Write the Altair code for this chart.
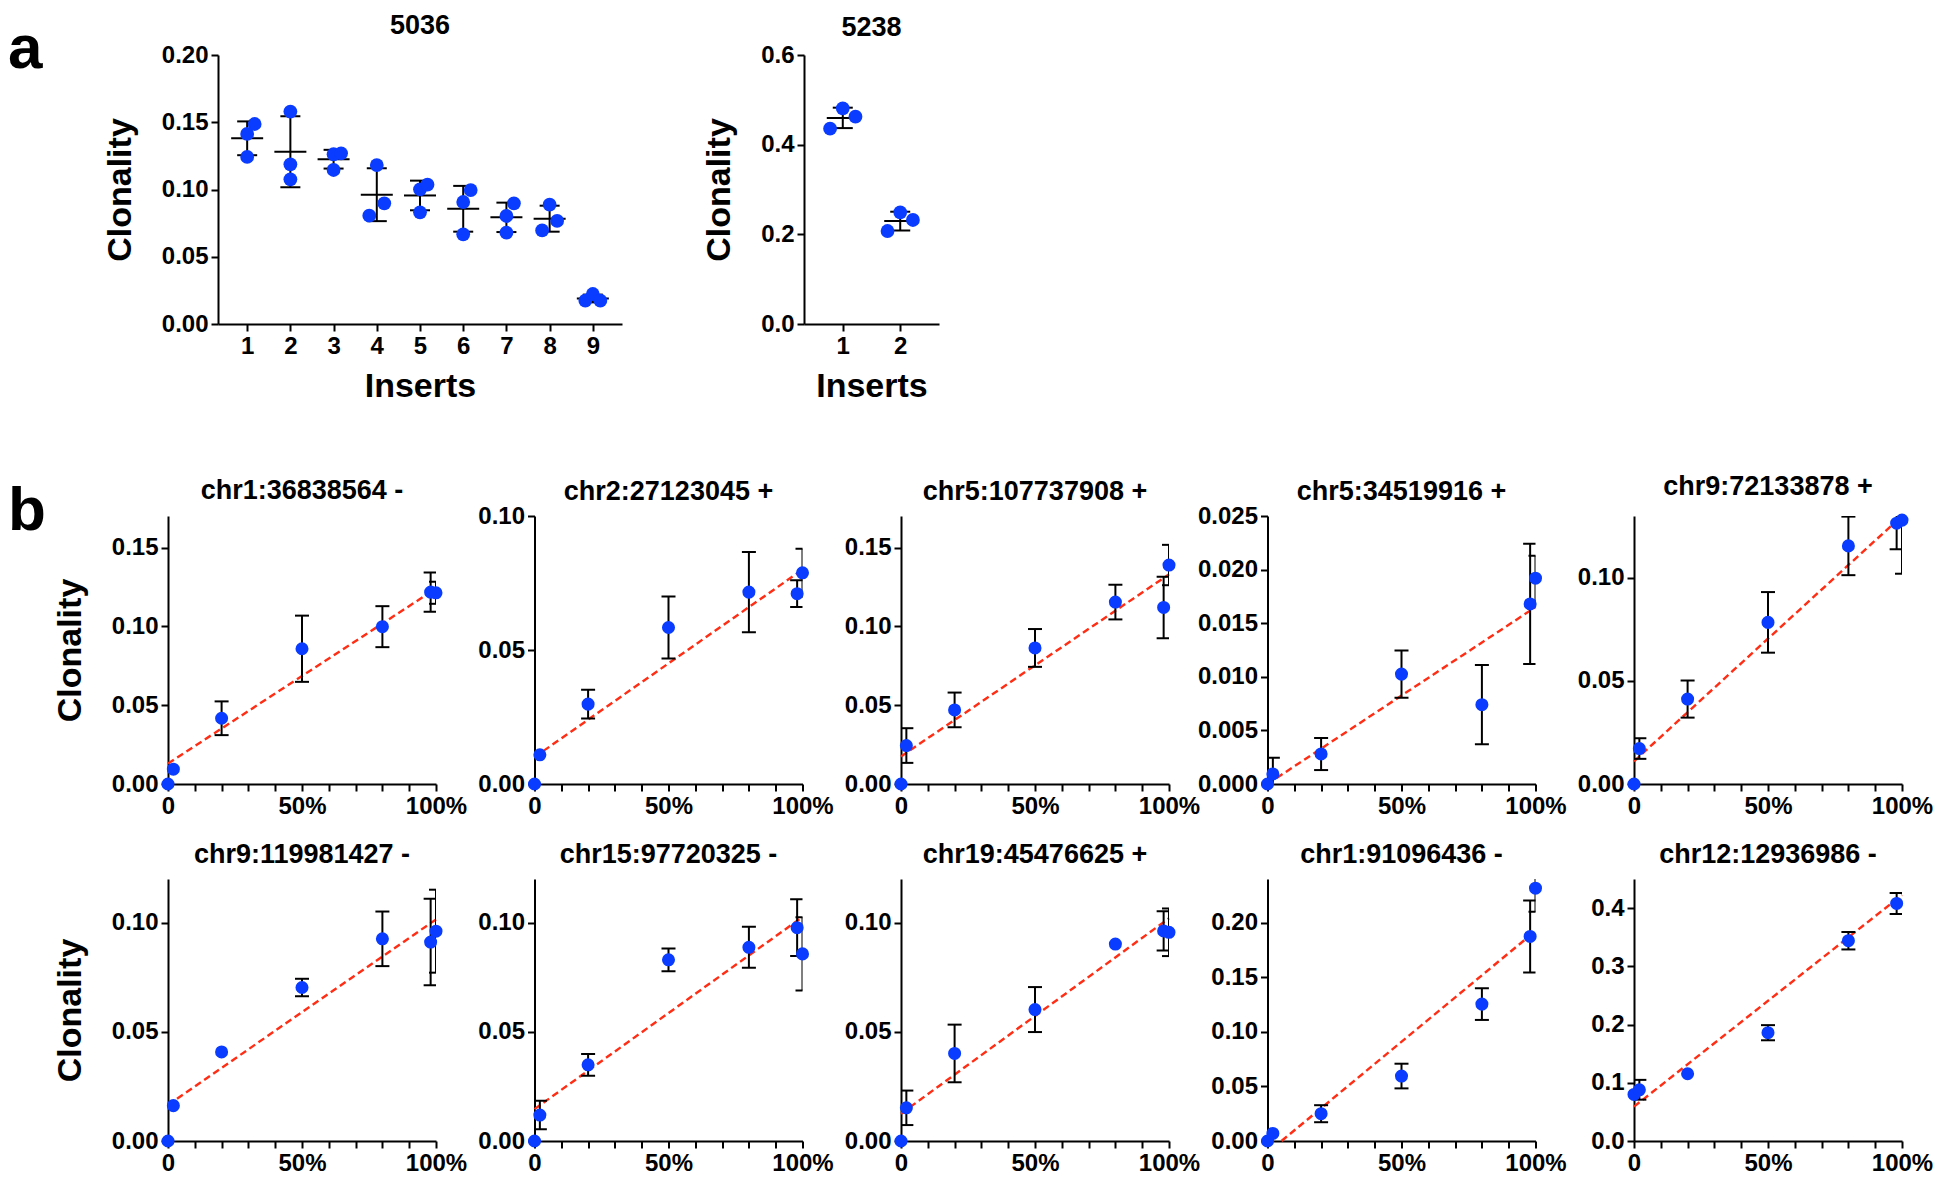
import altair as alt
import numpy as np
import pandas as pd

FONT = "Liberation Sans"
BLUE = "#0a3cff"
RED = "#ff2d14"

PANEL_LETTERS = ["a", "b"]

# ---------------- panel a data ----------------
A1_TITLE = "5036"
A1_INSERT = [1, 1, 1, 2, 2, 2, 3, 3, 3, 4, 4, 4, 5, 5, 5, 6, 6, 6, 7, 7, 7, 8, 8, 8, 9, 9, 9]
A1_CLON = [0.1413, 0.1487, 0.1242, 0.1579, 0.1187, 0.1076, 0.1262, 0.1269, 0.1145,
           0.1182, 0.0805, 0.0897, 0.1001, 0.1036, 0.0830, 0.0907, 0.0996, 0.0667,
           0.0803, 0.0897, 0.0679, 0.0887, 0.0766, 0.0696, 0.0173, 0.0223, 0.0173]
A1_SLOT = [0, 1, 0, 0, 0, 0, 0, 1, 0, 0, -1, 1, 0, 1, 0, 0, 1, 0, 0, 1, 0, 0, 1, -1, -1, 0, 1]
A1_YMAX, A1_YSTEP, A1_FMT = 0.20, 0.05, ".2f"

A2_TITLE = "5238"
A2_INSERT = [1, 1, 1, 2, 2, 2]
A2_CLON = [0.4357, 0.4810, 0.4625, 0.2074, 0.2491, 0.2320]
A2_SLOT = [-1, 0, 1, -1, 0, 1]
A2_YMAX, A2_YSTEP, A2_FMT = 0.6, 0.2, ".1f"

# ---------------- panel b data ----------------
B_TITLES = ["chr1:36838564 -", "chr2:27123045 +", "chr5:107737908 +", "chr5:34519916 +",
            "chr9:72133878 +", "chr9:119981427 -", "chr15:97720325 -", "chr19:45476625 +",
            "chr1:91096436 -", "chr12:12936986 -"]
XS7 = [0, 0.02, 0.2, 0.5, 0.8, 0.98, 1.0]
B_X = [XS7] * 9 + [[0, 0.02, 0.2, 0.5, 0.8, 0.98]]
B_Y = [
    [0, 0.0094, 0.0417, 0.0858, 0.0998, 0.1217, 0.1213],
    [0, 0.0109, 0.0298, 0.0584, 0.0716, 0.0710, 0.0788],
    [0, 0.0244, 0.0470, 0.0863, 0.1154, 0.1120, 0.1389],
    [0, 0.00094, 0.0028, 0.01025, 0.0074, 0.0168, 0.0192],
    [0, 0.0172, 0.0412, 0.0784, 0.1155, 0.1265, 0.1280],
    [0, 0.0162, 0.0408, 0.0703, 0.0926, 0.0911, 0.0961],
    [0, 0.0119, 0.0349, 0.0830, 0.0887, 0.0977, 0.0857],
    [0, 0.0152, 0.0401, 0.0602, 0.0902, 0.0962, 0.0956],
    [0, 0.0069, 0.0250, 0.0595, 0.1254, 0.1874, 0.2316],
    [0.080, 0.088, 0.1155, 0.186, 0.344, 0.408],
]
B_ERR = [
    [0, 0, 0.0107, 0.021, 0.013, 0.0125, 0.007],
    [0, 0, 0.0054, 0.0116, 0.015, 0.005, 0.009],
    [0, 0.011, 0.011, 0.012, 0.011, 0.0195, 0.0128],
    [0, 0.0015, 0.0015, 0.0022, 0.0037, 0.0056, 0.0021],
    [0, 0.005, 0.009, 0.0147, 0.0142, 0.0126, 0.026],
    [0, 0, 0, 0.004, 0.0125, 0.0198, 0.019],
    [0, 0.0065, 0.005, 0.0052, 0.0094, 0.013, 0.0168],
    [0, 0.0079, 0.0132, 0.0103, 0, 0.009, 0.0109],
    [0, 0, 0.0078, 0.0113, 0.0145, 0.033, 0.0216],
    [0, 0.017, 0, 0.013, 0.015, 0.018],
]
B_YMAX = [0.17, 0.10, 0.17, 0.025, 0.13, 0.12, 0.12, 0.12, 0.24, 0.45]
B_YSTEP = [0.05, 0.05, 0.05, 0.005, 0.05, 0.05, 0.05, 0.05, 0.05, 0.1]
B_FMT = [".2f", ".2f", ".2f", ".3f", ".2f", ".2f", ".2f", ".2f", ".2f", ".1f"]
B_FIT_INTERCEPT = [0.013, 0.010, 0.0175, 0.0, 0.011, 0.0165, 0.0146, 0.0125, -0.0106, 0.059]
B_FIT_SLOPE = [0.111, 0.070, 0.1155, 0.0165, 0.119, 0.085, 0.088, 0.0895, 0.203, 0.3635]
X_TICKS = [i / 10 for i in range(11)]

A_W1, A_W2, A_H = 404, 135, 269
B_W = 268
B_H_ROWS = [268, 262]


def letter_layer(letter, dx, dy):
    return alt.Chart(pd.DataFrame({"letter": [letter]})).mark_text(
        align="left", baseline="alphabetic", font=FONT, fontSize=62, fontWeight="bold",
        color="black"
    ).encode(text="letter:N", x=alt.value(dx), y=alt.value(dy))


def spacer(width, height):
    return alt.Chart(pd.DataFrame({"v": [0]})).mark_point(opacity=0).encode(
        x=alt.value(0), y=alt.value(0)).properties(width=width, height=height)


def panel_a(title, inserts, clon, slot, ymax, ystep, yfmt, width, jit_px, title_offset, letter=None):
    n = max(inserts)
    pad = 0.675
    lo_d, hi_d = 1 - pad, n + pad
    step_px = width / (hi_d - lo_d)
    df = pd.DataFrame({"insert": inserts, "clon": clon, "slot": slot})
    df["xpos"] = df["insert"] + df["slot"] * jit_px / step_px
    xs = alt.Scale(domain=[lo_d, hi_d], nice=False, zero=False)
    ys = alt.Scale(domain=[0, ymax], nice=False)
    yvals = [float(v) for v in np.round(np.arange(0, ymax + 1e-9, ystep), 4)]
    xax = alt.Axis(values=list(range(1, n + 1)), format="d", title="Inserts",
                   titlePadding=11, labelFlush=False)
    yax = alt.Axis(values=yvals, format=yfmt, title="Clonality", titlePadding=24)
    base = alt.Chart(df)
    stats = base.transform_aggregate(
        m="mean(clon)", sd="stdev(clon)", groupby=["insert"]
    ).transform_calculate(lo="datum.m - datum.sd", hi="datum.m + datum.sd")
    X = alt.X("insert:Q", scale=xs, axis=xax)
    rule = stats.mark_rule(color="black", strokeWidth=2).encode(
        x=X, y=alt.Y("lo:Q", scale=ys, axis=yax), y2="hi:Q")
    cap_lo = stats.mark_tick(orient="horizontal", size=20, thickness=2, color="black", opacity=1).encode(
        x=X, y=alt.Y("lo:Q", scale=ys, axis=yax))
    cap_hi = stats.mark_tick(orient="horizontal", size=20, thickness=2, color="black", opacity=1).encode(
        x=X, y=alt.Y("hi:Q", scale=ys, axis=yax))
    mean = stats.mark_tick(orient="horizontal", size=32, thickness=2, color="black", opacity=1).encode(
        x=X, y=alt.Y("m:Q", scale=ys, axis=yax))
    dots = base.mark_circle(size=190, color=BLUE, opacity=1).encode(
        x=alt.X("xpos:Q", scale=xs, axis=xax), y=alt.Y("clon:Q", scale=ys, axis=yax))
    layers = [rule, cap_lo, cap_hi, mean, dots]
    if letter is not None:
        layers.append(letter)
    return alt.layer(*layers).properties(
        width=width, height=A_H,
        title=alt.TitleParams(title, frame="group", offset=title_offset, baseline="bottom"))


def panel_b(k, show_ytitle, title_offset, height, letter=None):
    df = pd.DataFrame({"x": B_X[k], "y": B_Y[k], "err": B_ERR[k]})
    df["lo"] = df["y"] - df["err"]
    df["hi"] = df["y"] + df["err"]
    eb = df[df["err"] > 0]
    a, b = B_FIT_INTERCEPT[k], B_FIT_SLOPE[k]
    x0 = max(0.0, -a / b)
    ln = pd.DataFrame({"x": [x0, 1.0]})
    ln["y"] = a + b * ln["x"]
    ymax = B_YMAX[k]
    yvals = [float(v) for v in np.round(np.arange(0, ymax + 1e-9, B_YSTEP[k]), 4)]
    xs = alt.Scale(domain=[0, 1], nice=False)
    ys = alt.Scale(domain=[0, ymax], nice=False)
    xax = alt.Axis(values=X_TICKS, title=None, labelFlush=False, labelOverlap=False,
                   labelExpr="datum.value == 0 ? '0' : datum.value == 0.5 ? '50%' : datum.value == 1 ? '100%' : ''")
    if show_ytitle:
        yax = alt.Axis(values=yvals, format=B_FMT[k], title="Clonality", titlePadding=24)
    else:
        yax = alt.Axis(values=yvals, format=B_FMT[k], title=None)
    X = alt.X("x:Q", scale=xs, axis=xax)
    line = alt.Chart(ln).mark_line(color=RED, strokeDash=[7, 4], strokeWidth=2.4).encode(
        x=X, y=alt.Y("y:Q", scale=ys, axis=yax))
    rule = alt.Chart(eb).mark_rule(color="black", strokeWidth=2, clip=True).encode(
        x=X, y=alt.Y("lo:Q", scale=ys, axis=yax), y2="hi:Q")
    cap_lo = alt.Chart(eb).mark_tick(orient="horizontal", size=14, thickness=2, color="black",
                                     opacity=1, clip=True).encode(
        x=X, y=alt.Y("lo:Q", scale=ys, axis=yax))
    cap_hi = alt.Chart(eb).mark_tick(orient="horizontal", size=14, thickness=2, color="black",
                                     opacity=1, clip=True).encode(
        x=X, y=alt.Y("hi:Q", scale=ys, axis=yax))
    dots = alt.Chart(df).mark_circle(size=170, color=BLUE, opacity=1).encode(
        x=X, y=alt.Y("y:Q", scale=ys, axis=yax))
    layers = [line, rule, cap_lo, cap_hi, dots]
    if letter is not None:
        layers.append(letter)
    return alt.layer(*layers).properties(
        width=B_W, height=height,
        title=alt.TitleParams(B_TITLES[k], frame="group", offset=title_offset, baseline="bottom"))


# title offsets compensate for top tick labels and the panel letters inside the first panels
pa1 = panel_a(A1_TITLE, A1_INSERT, A1_CLON, A1_SLOT, A1_YMAX, A1_YSTEP, A1_FMT, A_W1, 7.5, -49,
              letter=letter_layer(PANEL_LETTERS[0], -210, 13))
pa2 = panel_a(A2_TITLE, A2_INSERT, A2_CLON, A2_SLOT, A2_YMAX, A2_YSTEP, A2_FMT, A_W2, 12.7, -26)

# spacers so that row a lines up with row b's origin (first b panel 50px left of 5036)
rowA = alt.hconcat(spacer(1, A_H), pa1, spacer(84, A_H), pa2, spacing=49, bounds="flush")

pbs = []
for k in range(10):
    ymax = B_YMAX[k]
    top_label = abs(round(ymax / B_YSTEP[k]) * B_YSTEP[k] - ymax) < 1e-9
    off = -28.5 if top_label else -16.5
    h = B_H_ROWS[k // 5]
    if k == 0:
        pbs.append(panel_b(k, True, off - 35, h, letter=letter_layer(PANEL_LETTERS[1], -160, 14)))
    else:
        pbs.append(panel_b(k, k % 5 == 0, off, h))
rowB = alt.concat(*pbs, columns=5, spacing={"row": 95, "column": 98.5}, bounds="flush")

chart = alt.concat(rowA, rowB, columns=1, spacing=69).properties(
    padding={"top": 4, "left": 0, "right": 0, "bottom": 0}
).configure_view(
    stroke=None
).configure_axis(
    domainColor="black", domainWidth=2, tickColor="black", tickWidth=2, tickSize=7,
    labelColor="black", labelFont=FONT, labelFontSize=24, labelFontWeight="bold", labelPadding=3,
    titleColor="black", titleFont=FONT, titleFontSize=34, titleFontWeight="bold", grid=False
).configure_title(
    font=FONT, fontSize=27, fontWeight="bold", color="black"
)

chart.save("out.html", embed_options={"renderer": "svg", "actions": False})
